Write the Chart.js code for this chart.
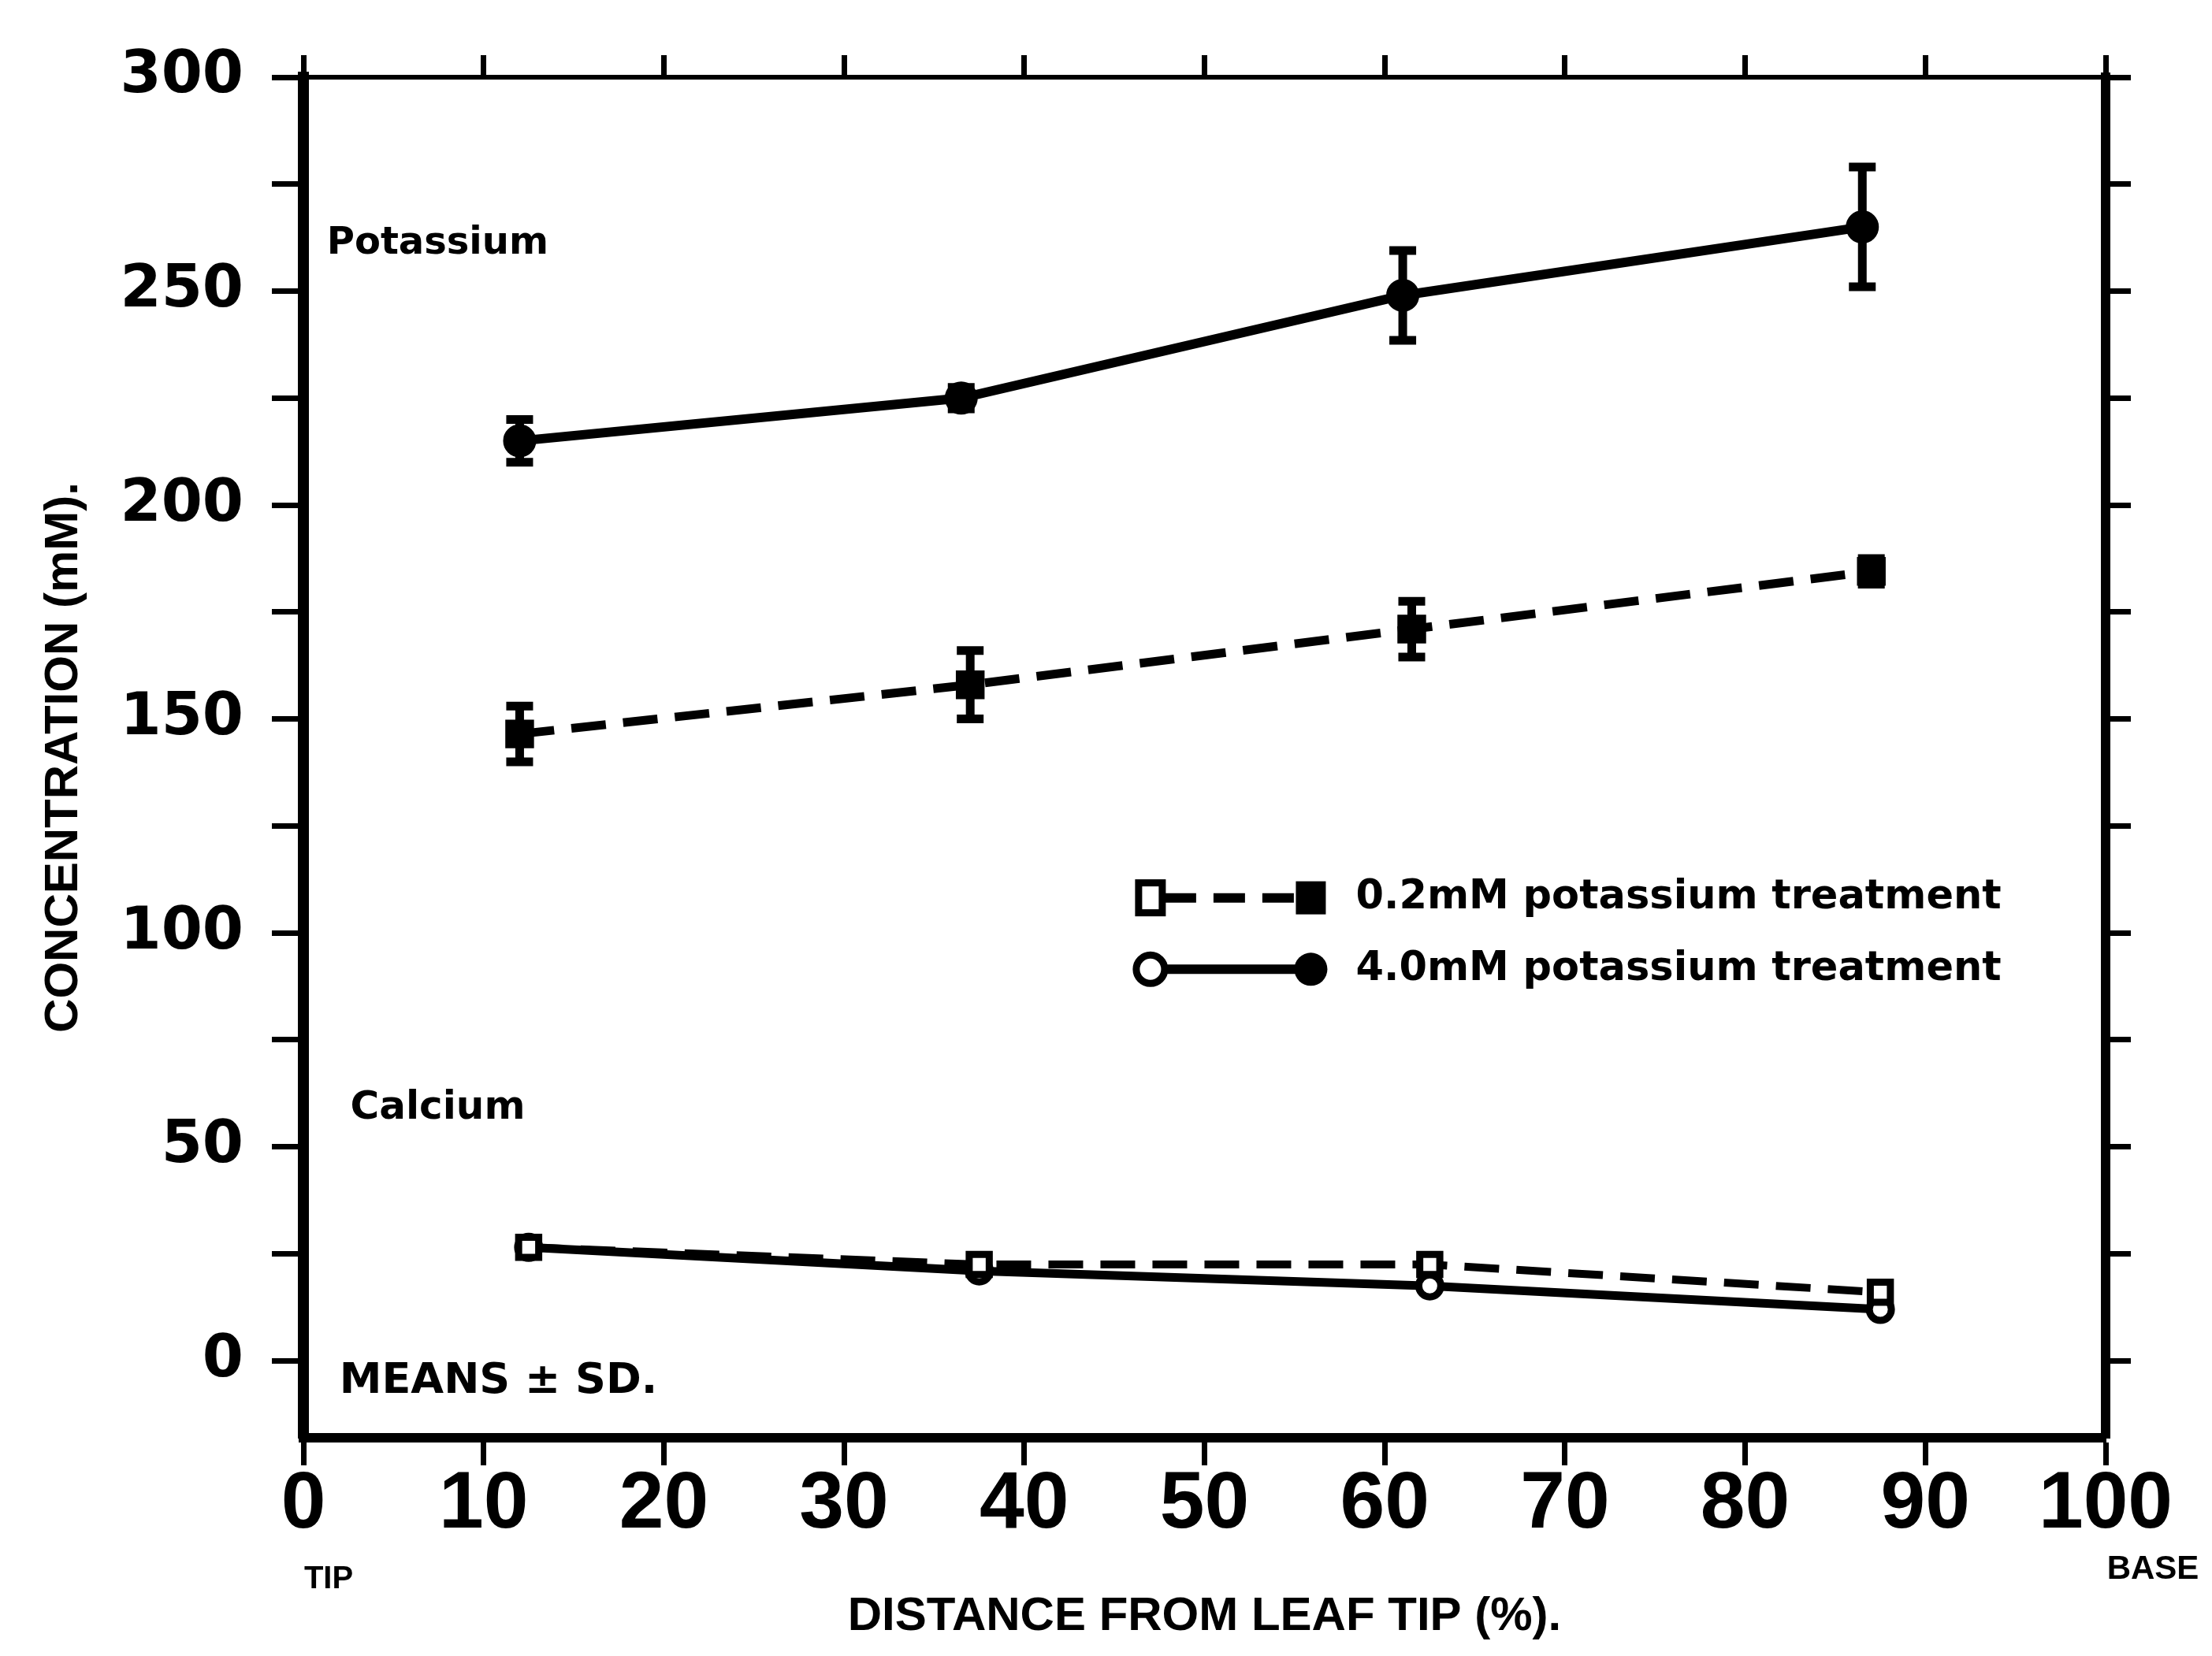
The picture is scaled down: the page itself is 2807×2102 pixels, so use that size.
<!DOCTYPE html>
<html>
<head>
<meta charset="utf-8">
<script src="https://cdn.jsdelivr.net/npm/chart.js@4.4.0/dist/chart.umd.min.js"></script>
<style>
  html, body { margin: 0; padding: 0; background: #fff; }
  #wrap { width: 2807px; height: 2102px; }
</style>
</head>
<body>
<div id="wrap"><canvas id="leafChart" width="2807" height="2102"></canvas></div>
<script>
// distance from leaf tip (%) of each sampled section
const kHighX = [12, 36.5, 61, 86.5];
const kLowX = [12, 37, 61.5, 87];
const caX = [12.5, 37.5, 62.5, 87.5];

// potassium concentration (mM), means and SD
const kHighMean = [215, 225, 249, 265];
const kHighSd = [5, 2.5, 10.5, 14];
const kLowMean = [146.5, 158, 171, 184.5];
const kLowSd = [6.5, 8, 6.5, 3];

// calcium concentration (mM)
const caHighMean = [26.5, 21, 17.5, 12];
const caLowMean = [26.5, 22.5, 22.5, 16];

const xTicks = [0, 10, 20, 30, 40, 50, 60, 70, 80, 90, 100];
const yTicks = [0, 25, 50, 75, 100, 125, 150, 175, 200, 225, 250, 275, 300];
const yLabelled = [0, 50, 100, 150, 200, 250, 300];

const legendItems = ['0.2mM potassium treatment', '4.0mM potassium treatment'];

const pts = (xs, ys) => xs.map((x, i) => ({ x: x, y: ys[i] }));

function djFont(size) { return 'bold ' + size + 'px "DejaVu Sans"'; }

// vertical SD bars with caps
const errorBars = {
  id: 'errorBars',
  afterDatasetsDraw(chart) {
    const { ctx, scales: { x, y } } = chart;
    chart.data.datasets.forEach(ds => {
      if (!ds.sd) return;
      ctx.save();
      ctx.strokeStyle = '#000';
      ctx.lineWidth = 11;
      ctx.setLineDash([]);
      ds.data.forEach((p, i) => {
        const px = x.getPixelForValue(p.x);
        const top = y.getPixelForValue(p.y + ds.sd[i]);
        const bot = y.getPixelForValue(p.y - ds.sd[i]);
        ctx.beginPath();
        ctx.moveTo(px, top); ctx.lineTo(px, bot);
        ctx.moveTo(px - 17, top); ctx.lineTo(px + 17, top);
        ctx.moveTo(px - 17, bot); ctx.lineTo(px + 17, bot);
        ctx.stroke();
      });
      ctx.restore();
    });
  }
};

// in-plot labels, legend and the TIP / BASE notes
const notes = {
  id: 'notes',
  afterDraw(chart) {
    const { ctx, scales: { x, y } } = chart;
    ctx.save();
    ctx.fillStyle = '#000';
    ctx.textBaseline = 'middle';
    ctx.textAlign = 'left';

    ctx.font = djFont(48);
    ctx.fillText('Potassium', x.getPixelForValue(1.3), y.getPixelForValue(261));
    ctx.font = djFont(50);
    ctx.fillText('Calcium', x.getPixelForValue(2.6), y.getPixelForValue(59));
    ctx.font = djFont(54);
    ctx.fillText('MEANS \u00b1 SD.', x.getPixelForValue(2), y.getPixelForValue(-5));

    // legend
    const rows = [
      { y: 108.2, dash: [40, 22], style: 'rect' },
      { y: 91.5, dash: [], style: 'circle' }
    ];
    rows.forEach((r, i) => {
      const py = y.getPixelForValue(r.y);
      const x0 = x.getPixelForValue(47);
      const x1 = x.getPixelForValue(55.9);
      ctx.strokeStyle = '#000';
      ctx.lineWidth = 12;
      ctx.setLineDash(r.dash);
      ctx.beginPath();
      ctx.moveTo(x0 + 18, py); ctx.lineTo(x1 - 18, py);
      ctx.stroke();
      ctx.setLineDash([]);
      ctx.lineWidth = 9;
      if (r.style === 'rect') {
        ctx.fillStyle = '#fff';
        ctx.fillRect(x0 - 15, py - 19, 30, 38);
        ctx.strokeRect(x0 - 15, py - 19, 30, 38);
        ctx.fillStyle = '#000';
        ctx.fillRect(x1 - 19, py - 21, 38, 42);
      } else {
        ctx.fillStyle = '#fff';
        ctx.beginPath(); ctx.arc(x0, py, 18, 0, Math.PI * 2); ctx.fill(); ctx.stroke();
        ctx.fillStyle = '#000';
        ctx.beginPath(); ctx.arc(x1, py, 21, 0, Math.PI * 2); ctx.fill();
      }
      ctx.fillStyle = '#000';
      ctx.font = djFont(51);
      ctx.fillText(legendItems[i], x.getPixelForValue(58.4), py);
    });

    ctx.font = 'bold 40px "Liberation Sans"';
    ctx.textAlign = 'center';
    ctx.fillText('TIP', x.getPixelForValue(0) + 32, 2005);
    ctx.font = 'bold 42px "Liberation Sans"';
    ctx.fillText('BASE', x.getPixelForValue(100) + 60, 1992);
    ctx.restore();
  }
};

const tickFrom = list => scale => { scale.ticks = list.map(v => ({ value: v })); };

new Chart(document.getElementById('leafChart'), {
  type: 'scatter',
  data: {
    datasets: [
      {
        label: '4.0mM potassium',
        data: pts(kHighX, kHighMean),
        sd: kHighSd,
        showLine: true,
        borderColor: '#000',
        borderWidth: 12,
        pointStyle: 'circle',
        pointRadius: 15,
        pointBackgroundColor: '#000',
        pointBorderColor: '#000'
      },
      {
        label: '0.2mM potassium',
        data: pts(kLowX, kLowMean),
        sd: kLowSd,
        showLine: true,
        borderColor: '#000',
        borderWidth: 11,
        borderDash: [44, 22],
        pointStyle: 'rect',
        pointRadius: 18,
        pointBackgroundColor: '#000',
        pointBorderColor: '#000'
      },
      {
        label: '0.2mM calcium',
        data: pts(caX, caLowMean),
        showLine: true,
        borderColor: '#000',
        borderWidth: 10,
        borderDash: [44, 22],
        pointStyle: 'rect',
        pointRadius: 18,
        pointBorderWidth: 9,
        pointBackgroundColor: '#fff',
        pointBorderColor: '#000'
      },
      {
        label: '4.0mM calcium',
        data: pts(caX, caHighMean),
        showLine: true,
        borderColor: '#000',
        borderWidth: 11,
        pointStyle: 'circle',
        pointRadius: 14,
        pointBorderWidth: 9,
        pointBackgroundColor: '#fff',
        pointBorderColor: '#000'
      }
    ]
  },
  options: {
    responsive: false,
    animation: false,
    layout: { padding: 0 },
    plugins: { legend: { display: false }, tooltip: { enabled: false } },
    scales: {
      x: {
        type: 'linear',
        position: 'bottom',
        min: 0,
        max: 100,
        afterBuildTicks: tickFrom(xTicks),
        afterFit: s => { s.height = 277; },
        ticks: {
          color: '#000',
          padding: 0,
          maxRotation: 0,
          autoSkip: false,
          font: { family: 'Liberation Sans', weight: 'bold', size: 102, lineHeight: 1 }
        },
        grid: { drawOnChartArea: false, tickLength: 35, tickWidth: 7, tickColor: '#000' },
        border: { display: true, width: 12, color: '#000' },
        title: {
          display: true,
          text: 'DISTANCE FROM LEAF TIP (%).',
          color: '#000',
          font: { family: 'Liberation Sans', weight: 'bold', size: 60, lineHeight: 1.2 },
          padding: { top: 0, bottom: 14 }
        }
      },
      xTop: {
        type: 'linear',
        position: 'top',
        min: 0,
        max: 100,
        afterBuildTicks: tickFrom(xTicks),
        afterFit: s => { s.height = 98; },
        ticks: { display: false },
        grid: { drawOnChartArea: false, tickLength: 28, tickWidth: 7, tickColor: '#000' },
        border: { display: true, width: 6, color: '#000' }
      },
      y: {
        type: 'linear',
        position: 'left',
        min: -18,
        max: 300,
        afterBuildTicks: tickFrom(yTicks),
        afterFit: s => { s.width = 385; },
        ticks: {
          color: '#000',
          padding: 36,
          autoSkip: false,
          callback: v => yLabelled.includes(v) ? String(v) : '',
          font: { family: 'DejaVu Sans', weight: 'bold', size: 75 }
        },
        grid: { drawOnChartArea: false, tickLength: 40, tickWidth: 7, tickColor: '#000' },
        border: { display: true, width: 14, color: '#000' },
        title: {
          display: true,
          text: 'CONCENTRATION (mM).',
          color: '#000',
          font: { family: 'Liberation Sans', weight: 'bold', size: 60, lineHeight: 1.2 },
          padding: { top: 45, bottom: 0 }
        }
      },
      yRight: {
        type: 'linear',
        position: 'right',
        min: -18,
        max: 300,
        afterBuildTicks: tickFrom(yTicks),
        afterFit: s => { s.width = 135; },
        ticks: { display: false },
        grid: { drawOnChartArea: false, tickLength: 32, tickWidth: 7, tickColor: '#000' },
        border: { display: true, width: 12, color: '#000' }
      }
    }
  },
  plugins: [errorBars, notes]
});
</script>
</body>
</html>
